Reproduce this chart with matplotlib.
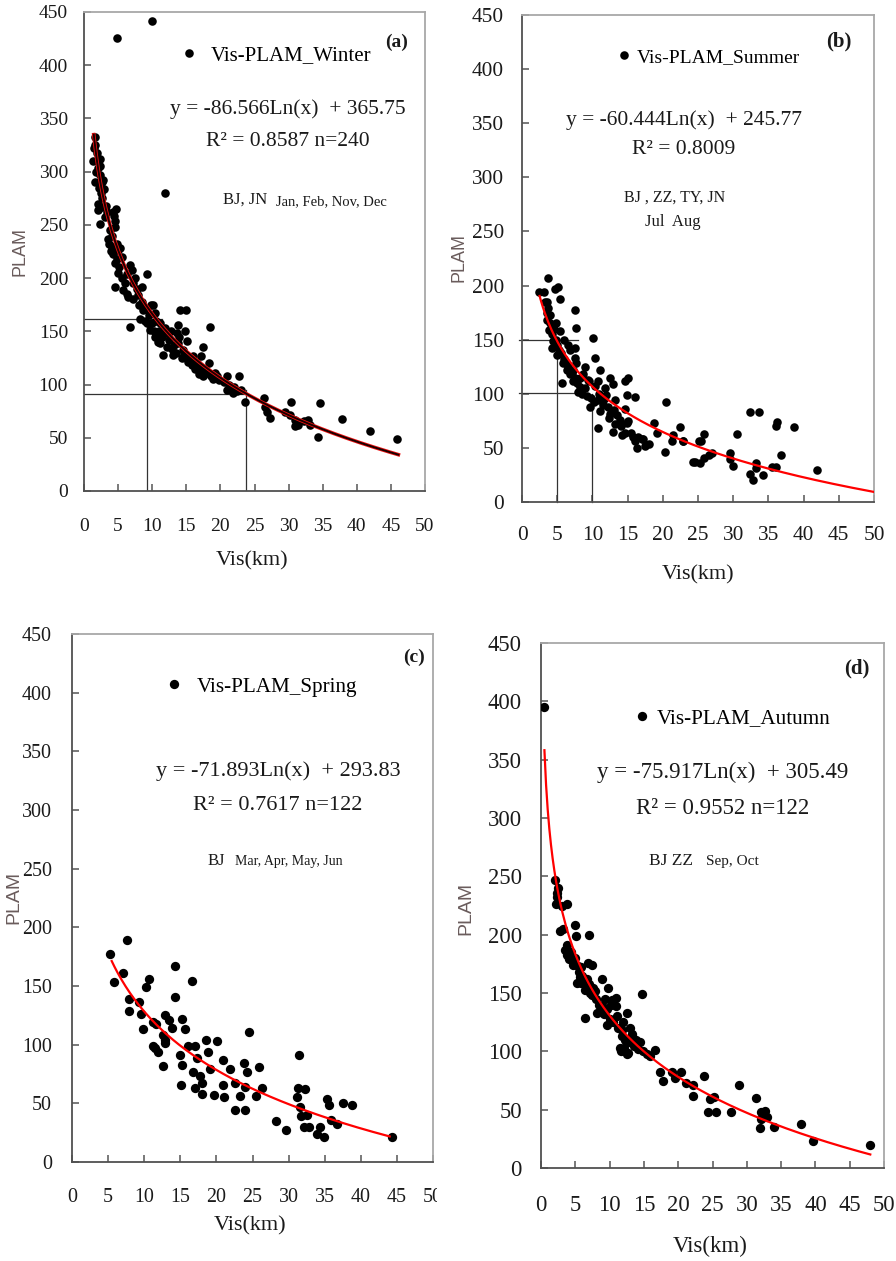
import matplotlib.pyplot as plt
import numpy as np
from matplotlib.transforms import Bbox

W, H = 896, 1261
plt.rcParams['font.family'] = ['Liberation Serif', 'DejaVu Serif']

# ---- data ----
winter_x = [1.61, 1.66, 1.37, 2.35, 2.1, 1.6, 2.83, 2.35, 2.1, 2.6, 2.35, 3.08,
            1.9, 2.2, 2.5, 2.7, 1.8, 2.0, 2.4, 2.9, 3.2, 3.4, 1.5, 2.6,
            4.3, 4.54, 4.54, 3.56, 4.05, 4.3, 5.03, 4.54, 5.52, 4.54, 5.76,
            4.7, 4.4, 3.7, 3.9, 4.1, 4.8, 5.2, 5.0, 5.5, 4.9, 5.3, 3.8,
            6.74, 6.26, 6.5, 7.23, 8.46, 7.97, 9.19, 8.46, 8.7, 8.2, 6.74, 9.2, 9.68,
            7.0, 7.5, 6.0, 7.8, 8.0, 8.9, 9.5, 6.3, 7.2, 9.0, 10.0, 10.3, 9.8, 10.5,
            10.16, 10.4, 11.1, 11.9, 14.1, 15.0, 13.8, 10.4, 11.1, 11.6, 12.4, 12.9,
            13.6, 13.8, 15.05, 14.3, 15.3, 12.0, 11.5, 12.7, 13.2, 14.0, 14.5, 12.2,
            13.0, 14.8, 11.0, 13.5, 14.7, 15.5, 15.8, 10.8,
            16.0, 17.5, 17.2, 16.3, 18.0, 18.5, 19.2, 18.9, 16.5, 17.0, 17.8, 18.3,
            16.8, 19.5, 17.5, 19.8, 16.2, 18.6,
            20.9, 22.8, 20.9, 21.9, 23.6, 21.3, 22.0, 20.5, 21.6, 22.5, 23.0,
            26.4, 26.5, 26.9, 27.3, 30.35, 29.5, 30.2, 31.0, 31.4, 32.2, 32.9, 33.1,
            31.0, 34.3, 34.6, 37.9, 41.9, 45.9,
            4.8, 9.9, 11.9]
winter_y = [333, 325, 310, 312, 303, 290, 292, 297, 264, 267, 251, 257,
            318, 285, 280, 275, 300, 270, 305, 284, 268, 262, 322, 290,
            262, 254, 248, 237, 229, 223, 226, 214, 220, 192, 189,
            265, 258, 232, 225, 240, 218, 210, 205, 200, 232, 228, 245,
            212, 204, 182, 195, 192, 184, 204, 178, 170, 162, 154, 158, 151,
            208, 200, 195, 190, 175, 172, 165, 185, 180, 160, 158, 150, 175, 160,
            175, 167, 158, 153, 170, 170, 156, 145, 139, 128, 142, 133,
            148, 139, 141, 125, 121, 148, 145, 150, 137, 145, 132, 135,
            128, 150, 150, 130, 128, 125, 118, 140,
            127, 135, 127, 115, 111, 154, 111, 105, 120, 116, 115, 120,
            110, 108, 108, 104, 122, 108,
            108, 108, 95, 92, 84, 100, 98, 102, 96, 94, 95,
            87, 79, 74, 69, 84, 74, 71, 67, 62, 66, 67, 62,
            61, 51, 83, 68, 56, 49,
            426, 442, 280]

summer_x = [3.74, 2.46, 3.1, 4.69, 5.16, 5.4, 3.5, 3.74, 3.98, 7.5, 7.65, 3.9, 5.4,
            10.04, 4.45, 4.2, 4.92, 6.58, 7.5, 7.5, 10.4, 5.87, 6.34, 7.05, 8.95,
            11.1, 5.63, 7.5, 8.24, 9.4, 10.4, 12.5, 12.97, 14.6, 15.1, 9.66, 10.8,
            12.0, 13.2, 14.9, 16.05, 10.84, 11.1, 12.5, 12.97, 13.9, 14.6, 14.9,
            14.6, 15.5, 16.05, 16.3, 17.25, 18.0, 18.7, 19.2, 20.4, 20.3, 21.5,
            22.4, 21.25, 22.9, 24.3, 25.1,
            22.9, 24.6, 25.3, 25.4, 25.9, 25.9, 26.5, 27.0, 29.5, 29.5, 30.0, 30.6,
            32.4, 33.7, 33.2, 33.2, 32.4, 32.75, 34.3, 35.5, 36.1, 36.2, 36.1, 36.8,
            38.7, 41.9,
            3.2, 3.5, 3.6, 4.0, 4.2, 4.5, 4.8, 5.0, 5.2, 5.5, 6.0, 6.2, 6.5, 6.8,
            7.2, 7.8, 8.0, 8.5, 9.0, 9.2, 9.8, 10.2, 11.0, 11.5, 11.8, 12.2, 13.0,
            13.5, 14.0, 16.5, 17.5, 15.0, 4.9, 5.9, 6.8, 7.6, 8.6, 9.5, 7.3, 8.2,
            10.8, 11.6, 12.3, 13.2, 14.2, 15.8, 17.0]
summer_y = [207, 194, 194, 197, 199, 188, 185, 179, 173, 177, 161, 159, 158,
            152, 149, 142, 136, 145, 142, 133, 133, 128, 122, 119, 125,
            122, 110, 115, 106, 113, 107, 115, 109, 112, 115, 88, 94,
            99, 94, 99, 97, 68, 84, 81, 65, 76, 86, 73,
            64, 64, 56, 50, 58, 54, 73, 64, 92, 46, 62,
            69, 56, 56, 37, 56,
            56, 37, 36, 56, 63, 41, 43, 45, 45, 40, 33, 63,
            83, 83, 36, 31, 26, 20, 25, 32, 32, 74, 70, 43,
            69, 30,
            185, 175, 168, 165, 155, 160, 150, 145, 140, 138, 132, 128, 125, 118,
            112, 110, 102, 100, 105, 98, 96, 92, 100, 90, 105, 88, 85,
            80, 70, 60, 52, 75, 165, 150, 140, 128, 118, 112, 122, 115,
            112, 95, 78, 72, 62, 60, 58]

spring_x = [5.33, 5.8, 7.64, 7.1, 7.87, 7.87, 9.26, 9.54, 9.87, 10.24, 10.7,
            11.25, 11.7, 11.16, 11.95, 12.6, 12.9, 12.9, 13.4, 13.8, 14.2, 14.2,
            15.2, 15.7, 14.9, 15.3, 15.05, 16.6, 16.1, 17.0, 17.3, 16.8, 17.7,
            18.0, 17.0, 18.0, 18.6, 18.9, 19.1, 20.05, 19.6, 20.97, 20.97, 21.0,
            21.9, 22.6, 22.6, 23.3, 23.8, 23.9, 24.2, 24.0, 24.5, 25.5, 25.9,
            26.3, 28.3, 29.6, 31.4, 31.3, 32.3, 31.2, 31.6, 31.7, 32.1, 32.8,
            32.6, 34.0, 34.9, 34.4, 35.3, 35.6, 35.9, 36.7, 37.5, 38.8, 44.3,
            12.6, 11.5, 12.9]
spring_y = [177, 153, 189, 161, 139, 129, 136, 126, 113, 149, 156,
            119, 118, 99, 94, 108, 101, 125, 121, 114, 167, 141,
            122, 113, 91, 83, 66, 154, 99, 99, 89, 77, 73,
            67, 63, 58, 104, 94, 79, 103, 57, 87, 66, 55,
            79, 67, 44, 56, 84, 44, 77, 64, 111, 56, 81,
            63, 35, 27, 91, 63, 62, 55, 47, 39, 30, 30,
            40, 24, 21, 30, 54, 49, 36, 32, 50, 49, 21,
            82, 97, 104]

autumn_x = [0.44, 2.04, 2.28, 2.2, 3.74, 2.77, 4.96, 5.06, 6.95, 3.74, 3.5, 3.84,
            4.13, 4.7, 5.4, 5.68, 5.2, 5.9, 6.9, 7.4, 6.4, 7.1, 7.6, 8.84, 9.8,
            10.3, 6.4, 8.1, 9.6, 11.0, 10.9, 9.6, 11.1, 12.5, 14.7, 13.0, 11.75,
            13.3, 11.5, 12.7, 16.6,
            15.9, 17.4, 17.75, 19.1, 19.6, 20.4, 21.1, 22.1, 22.2, 23.7, 24.6,
            25.2, 24.3, 25.5, 27.7, 28.8, 31.3, 32.1, 32.7, 32.0, 31.9, 32.9,
            34.0, 37.9, 39.7, 48.0,
            4.4, 4.9, 5.5, 6.0, 6.3, 6.7, 7.0, 7.5, 8.0, 8.5, 9.0, 9.2, 10.0, 10.5,
            11.2, 11.8, 12.2, 12.8, 13.5, 14.2, 14.8, 11.6, 12.1, 13.8, 5.8, 7.8,
            10.2, 9.4, 11.9, 13.2, 14.5, 15.5, 12.5, 3.2, 2.5, 2.4, 3.0]
autumn_y = [395, 247, 236, 226, 226, 203, 208, 199, 200, 191, 187, 183,
            179, 174, 173, 164, 159, 159, 176, 174, 153, 150, 154, 162, 154,
            144, 129, 133, 136, 146, 139, 123, 130, 133, 149, 120, 113,
            113, 103, 99, 101,
            96, 82, 75, 82, 77, 82, 73, 62, 71, 79, 59,
            61, 48, 48, 48, 71, 60, 48, 49, 42, 34, 44,
            35, 38, 23, 20,
            185, 180, 168, 165, 160, 162, 158, 148, 145, 140, 138, 132, 128, 125,
            120, 118, 110, 108, 105, 102, 100, 100, 103, 110, 172, 152,
            140, 145, 125, 115, 108, 98, 98, 205, 240, 232, 225]

# log trend lines: slope, intercept, first and last x of the drawn curve
fit_slope = [-86.566, -60.444, -71.893, -75.917]
fit_icept = [365.75, 245.77, 293.83, 305.49]
fit_x0 = [1.43, 2.5, 5.5, 0.5]
fit_x1 = [46.1, 50.0, 44.0, 48.0]

# reference lines drawn in (a) and (b)
guide_a = [([0, 11.5], [162, 162]), ([9.2, 9.2], [0, 162]),
           ([0, 24.0], [91, 91]), ([23.8, 23.8], [0, 95])]
guide_b = [([-0.4, 7.9], [150, 150]), ([5.0, 5.0], [0, 150]),
           ([-0.4, 8.9], [101, 101]), ([10.0, 10.0], [0, 100])]

xticks = np.arange(0, 51, 5)
yticks = np.arange(0, 451, 50)

fig = plt.figure(figsize=(W / 100, H / 100), dpi=100)


def fpos(x, y):
    return x / W, 1 - y / H


def axes_px(left, top, right, bottom):
    return fig.add_axes([left / W, 1 - bottom / H, (right - left) / W, (bottom - top) / H])


TXT = '#1a1a1a'


def style(ax, fs, xpad, ypad):
    ax.set_xlim(0, 50)
    ax.set_ylim(0, 450)
    ax.set_xticks(xticks)
    ax.set_yticks(yticks)
    ax.tick_params(direction='in', length=5, width=1.1, color='#555555',
                   labelsize=fs, labelcolor=TXT)
    ax.tick_params(axis='x', pad=xpad)
    ax.tick_params(axis='y', pad=ypad)
    for s in ['left', 'bottom']:
        ax.spines[s].set_color('#505050')
        ax.spines[s].set_linewidth(1.3)
    for s in ['top', 'right']:
        ax.spines[s].set_color('#a8a8a8')
        ax.spines[s].set_linewidth(1.3)


def trend(ax, i, dark=False):
    xs = np.linspace(fit_x0[i], fit_x1[i], 200)
    ys = fit_slope[i] * np.log(xs) + fit_icept[i]
    if dark:
        ax.plot(xs, ys, color='#ee1111', lw=2.6, zorder=3)
        ax.plot(xs, ys, color='#1a0000', lw=1.4, zorder=4)
    else:
        ax.plot(xs, ys, color='#ff0000', lw=1.6, zorder=4)


def legend(ax, sc, label, left, yc, fs, tpad):
    ax.legend([sc], [label], loc='center left', bbox_to_anchor=fpos(left, yc),
              bbox_transform=fig.transFigure, frameon=False, fontsize=fs,
              handlelength=0.8, handletextpad=tpad, borderpad=0, borderaxespad=0,
              scatterpoints=1, scatteryoffsets=[0.5])


def ftext(x, y, s, fs, ha='center', **kw):
    kw.setdefault('color', TXT)
    fig.text(*fpos(x, y), s, fontsize=fs, ha=ha, va='center', **kw)


# ---- (a) winter ----
ax = axes_px(84, 12, 425, 491)
style(ax, 14, 19.5, 11.5)
for gx, gy in guide_a:
    ax.plot(gx, gy, color='#333333', lw=0.9, zorder=2)
sc = ax.scatter(winter_x, winter_y, s=38, color='black', zorder=3, linewidths=0)
trend(ax, 0, dark=True)
legend(ax, sc, 'Vis-PLAM_Winter', 180.4, 55, 15, 0.65)
ftext(397, 42, '(a)', 14, weight='bold')
ftext(288, 109, 'y = -86.566Ln(x)  + 365.75', 15.5)
ftext(288, 141, 'R² = 0.8587 n=240', 15.5)
ftext(223, 200, 'BJ, JN', 12, ha='left')
ftext(276, 202, 'Jan, Feb, Nov, Dec', 10.5, ha='left')
ftext(20, 251, 'PLAM', 13, rotation=90, color='#6a5c5c', family='Liberation Sans')
ftext(252, 561, 'Vis(km)', 16)

# ---- (b) summer ----
ax = axes_px(522, 15, 874, 502)
style(ax, 15.4, 17, 13)
for gx, gy in guide_b:
    ax.plot(gx, gy, color='#333333', lw=0.9, zorder=2, clip_on=False)
sc = ax.scatter(summer_x, summer_y, s=38, color='black', zorder=3, linewidths=0)
trend(ax, 1)
legend(ax, sc, 'Vis-PLAM_Summer', 616.5, 57, 14, 0.24)
ftext(839, 41, '(b)', 15, weight='bold')
ftext(683.5, 120, 'y = -60.444Ln(x)  + 245.77', 15.5)
ftext(683.5, 150, 'R² = 0.8009', 15.5)
ftext(674.5, 198, 'BJ , ZZ, TY, JN', 11.5)
ftext(673, 222, 'Jul  Aug', 12)
ftext(459, 258, 'PLAM', 13, rotation=90, color='#6a5c5c', family='Liberation Sans')
ftext(698, 575, 'Vis(km)', 16)

# ---- (c) spring ----
ax = axes_px(72, 634, 433, 1162)
style(ax, 14.4, 18.5, 14.4)
sc = ax.scatter(spring_x, spring_y, s=45, color='black', zorder=3, linewidths=0)
trend(ax, 2)
legend(ax, sc, 'Vis-PLAM_Spring', 165.5, 687, 15.2, 0.69)
ftext(414, 657, '(c)', 14, weight='bold')
ftext(278, 771, 'y = -71.893Ln(x)  + 293.83', 16)
ftext(277.5, 806, 'R² = 0.7617 n=122', 16)
ftext(208, 861, 'BJ', 12, ha='left')
ftext(235, 862, 'Mar, Apr, May, Jun', 10, ha='left')
ftext(14, 897, 'PLAM', 14, rotation=90, color='#6a5c5c', family='Liberation Sans')
ftext(250, 1226, 'Vis(km)', 16)
# the last tick label is cut by the neighbouring panel
lab = ax.xaxis.get_major_ticks()[-1].label1
lab.set_clip_box(Bbox.from_extents(0, 0, 437, H))
lab.set_clip_on(True)

# ---- (d) autumn ----
ax = axes_px(541, 643, 884, 1168)
style(ax, 16.3, 19.5, 13.7)
sc = ax.scatter(autumn_x, autumn_y, s=45, color='black', zorder=3, linewidths=0)
trend(ax, 3)
legend(ax, sc, 'Vis-PLAM_Autumn', 633.6, 718, 15.2, 0.31)
ftext(857, 668, '(d)', 15, weight='bold')
ftext(722.5, 772, 'y = -75.917Ln(x)  + 305.49', 16.5)
ftext(723, 808, 'R² = 0.9552 n=122', 16.5)
ftext(649, 861, 'BJ ZZ', 12.5, ha='left')
ftext(706, 861, 'Sep, Oct', 11, ha='left')
ftext(466, 908, 'PLAM', 14, rotation=90, color='#6a5c5c', family='Liberation Sans')
ftext(710, 1246, 'Vis(km)', 16.5)

fig.savefig('out.png', dpi=100)
